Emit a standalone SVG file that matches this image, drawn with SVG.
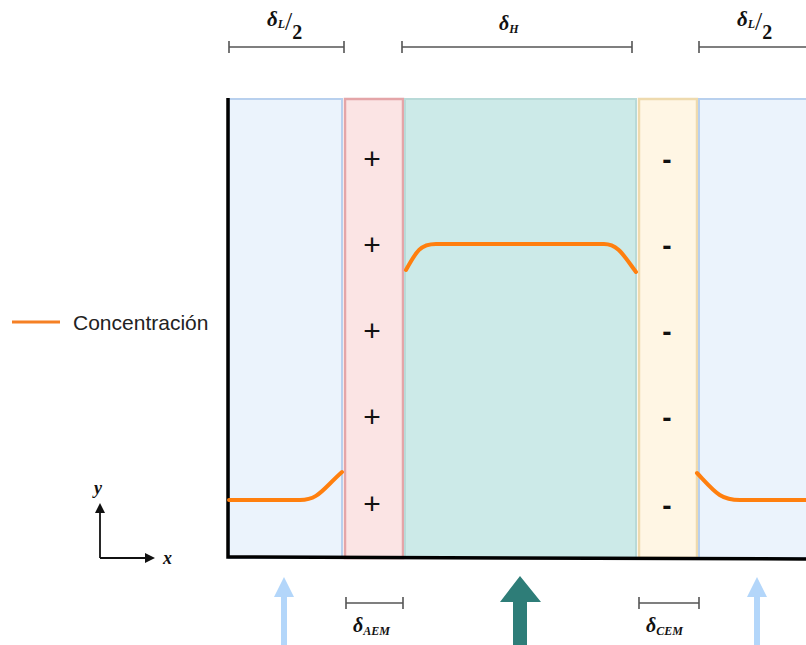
<svg xmlns="http://www.w3.org/2000/svg" width="806" height="645" viewBox="0 0 806 645">
<style>
.dim{stroke:#555;stroke-width:1.6;fill:none}
.math{font-family:"Liberation Serif","DejaVu Serif",serif;font-weight:bold;font-style:italic;fill:#111}
.sign{font-family:"Liberation Sans",Arial,sans-serif;font-size:30px;fill:#111;text-anchor:middle}
.minus{font-family:"Liberation Sans",Arial,sans-serif;font-size:28px;font-weight:bold;fill:#111;text-anchor:middle}
.conc{stroke:#FF7F0E;stroke-width:4;fill:none;stroke-linecap:round}
</style>
<defs>
<marker id="ah" markerWidth="10" markerHeight="10" refX="8" refY="5" orient="auto" markerUnits="userSpaceOnUse">
<path d="M0,0 L10,5 L0,10 Z" fill="#111"/>
</marker>
</defs>
<rect width="806" height="645" fill="#fff"/>
<g id="regions">
<rect id="left-blue" x="229" y="99" width="113" height="459" fill="#EBF3FC" stroke="#B8D0EE" stroke-width="2"/>
<rect id="aem" x="345" y="99" width="58" height="459" fill="#FBE4E4" stroke="#E4A5A8" stroke-width="2.5"/>
<rect id="teal" x="405" y="99" width="231" height="459" fill="#CCEAE8" stroke="#B8DAD8" stroke-width="2"/>
<rect id="cem" x="639" y="99" width="58" height="459" fill="#FFF6E4" stroke="#EEDAAE" stroke-width="2.5"/>
<rect id="right-blue" x="699" y="99" width="110" height="459" fill="#EBF3FC" stroke="#B8D0EE" stroke-width="2"/>
</g>
<g id="axes-frame">
<path d="M228,98 L228,557 L806,559" stroke="#000" stroke-width="3.5" fill="none"/>
</g>
<g id="signs">
<text class="sign" x="372" y="169">+</text>
<text class="sign" x="372" y="255">+</text>
<text class="sign" x="372" y="341">+</text>
<text class="sign" x="372" y="427">+</text>
<text class="sign" x="372" y="514">+</text>
<text class="minus" x="667" y="169">-</text>
<text class="minus" x="667" y="255">-</text>
<text class="minus" x="667" y="341">-</text>
<text class="minus" x="667" y="427">-</text>
<text class="minus" x="667" y="515">-</text>
</g>
<g id="concentration">
<path class="conc" d="M229,500 L300,500 C318,500 322,490 342,472"/>
<path class="conc" d="M406,270 C416,252 420,244 436,244 L604,244 C618,244 624,256 636,272"/>
<path class="conc" d="M697,473 C715,492 720,500 740,500 L806,500"/>
</g>
<g id="dimensions">
<path class="dim" d="M229,47 H344 M229,41 V53 M344,41 V53"/>
<path class="dim" d="M402,47 H632 M402,41 V53 M632,41 V53"/>
<path class="dim" d="M699,47 H806 M699,41 V53"/>
<path class="dim" d="M346,603 H403 M346,597 V609 M403,597 V609"/>
<path class="dim" d="M639,603 H699 M639,597 V609 M699,597 V609"/>
</g>
<g id="labels">
<text class="math" x="267" y="26" font-size="21">δ<tspan font-size="12" dy="2">L</tspan><tspan font-size="26" font-style="normal" font-weight="normal" dy="2">/</tspan><tspan font-size="20" font-style="normal" dy="9">2</tspan></text>
<text class="math" x="737" y="26" font-size="21">δ<tspan font-size="12" dy="2">L</tspan><tspan font-size="26" font-style="normal" font-weight="normal" dy="2">/</tspan><tspan font-size="20" font-style="normal" dy="9">2</tspan></text>
<text class="math" x="499" y="30" font-size="20">δ<tspan font-size="12" dy="3">H</tspan></text>
<text class="math" x="353" y="632" font-size="20">δ<tspan font-size="12" dy="3">AEM</tspan></text>
<text class="math" x="646" y="632" font-size="20">δ<tspan font-size="12" dy="3">CEM</tspan></text>
</g>
<g id="legend">
<line x1="12" y1="322" x2="60" y2="322" stroke="#F58025" stroke-width="3"/>
<text x="73" y="330" font-family="Liberation Sans, Arial, sans-serif" font-size="21" fill="#222">Concentración</text>
</g>
<g id="axis-indicator">
<path d="M100,558 V505" stroke="#111" stroke-width="1.8" fill="none" marker-end="url(#ah)"/>
<path d="M100,558 H153" stroke="#111" stroke-width="1.8" fill="none" marker-end="url(#ah)"/>
<text class="math" x="94" y="494" font-size="18">y</text>
<text class="math" x="163" y="564" font-size="18">x</text>
</g>
<g id="flow-arrows">
<path d="M281,645 V597 H274 L284,577 L294,597 H287 V645 Z" fill="#B3D6FA"/>
<path d="M513,645 V602 H500 L520,576 L541,602 H527 V645 Z" fill="#2E7D78"/>
<path d="M754,645 V597 H747 L757,577 L767,597 H760 V645 Z" fill="#B3D6FA"/>
</g>
</svg>
